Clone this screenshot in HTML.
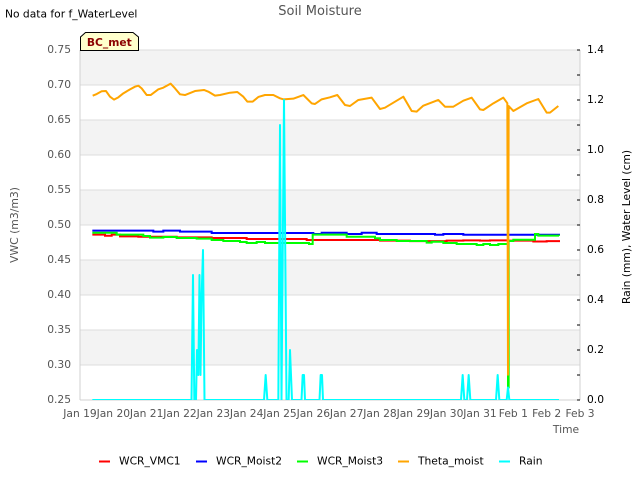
<!DOCTYPE html>
<html>
<head>
<meta charset="utf-8">
<title>Soil Moisture</title>
<style>
html,body{margin:0;padding:0;background:#fff;}
svg{display:block;font-family:"DejaVu Sans",sans-serif;}
</style>
</head>
<body>
<svg id="chart" width="640" height="480" viewBox="0 0 640 480" xmlns="http://www.w3.org/2000/svg">
  <defs>
    <clipPath id="plot-clip"><rect x="80" y="50" width="500" height="350"/></clipPath>
  </defs>
  <rect x="0" y="0" width="640" height="480" fill="#ffffff"/>
  <g id="bands"></g>
  <g id="grid"></g>
  <g id="axes"></g>
  <g id="series" clip-path="url(#plot-clip)"></g>
  <g id="labels"></g>

  <text x="320" y="15" font-size="13" fill="#555555" text-anchor="middle">Soil Moisture</text>
  <text x="5" y="17.5" font-size="10.7" fill="#000000">No data for f_WaterLevel</text>

  <polygon points="80.5,50.5 80.5,37 85.5,32.5 133,32.5 138.5,37 138.5,50.5" fill="#ffffcc" stroke="#000000" stroke-width="1"/>
  <text x="109.3" y="46" font-size="10.7" font-weight="bold" fill="#8b0000" text-anchor="middle">BC_met</text>

  <text transform="translate(18,225) rotate(-90)" font-size="10.8" fill="#555555" text-anchor="middle">VWC (m3/m3)</text>
  <text transform="translate(630,227) rotate(-90)" font-size="10.7" fill="#000000" text-anchor="middle">Rain (mm), Water Level (cm)</text>
  <text x="566" y="433" font-size="10.7" fill="#555555" text-anchor="middle">Time</text>

  <g font-size="10.7" fill="#000000">
    <line x1="99" x2="110" y1="461.5" y2="461.5" stroke="#ff0000" stroke-width="2"/>
    <text x="119" y="464.5">WCR_VMC1</text>
    <line x1="196" x2="207" y1="461.5" y2="461.5" stroke="#0000ff" stroke-width="2"/>
    <text x="216" y="464.5">WCR_Moist2</text>
    <line x1="297" x2="308" y1="461.5" y2="461.5" stroke="#00ff00" stroke-width="2"/>
    <text x="317" y="464.5">WCR_Moist3</text>
    <line x1="398" x2="409" y1="461.5" y2="461.5" stroke="#ffa500" stroke-width="2"/>
    <text x="418" y="464.5">Theta_moist</text>
    <line x1="499" x2="510" y1="461.5" y2="461.5" stroke="#00ffff" stroke-width="2"/>
    <text x="519" y="464.5">Rain</text>
  </g>
</svg>
<script>
// Category and tick data
var xTickLabels = ["Jan 19","Jan 20","Jan 21","Jan 22","Jan 23","Jan 24","Jan 25","Jan 26","Jan 27","Jan 28","Jan 29","Jan 30","Jan 31","Feb 1","Feb 2","Feb 3"];
var leftTicks = [0.25,0.30,0.35,0.40,0.45,0.50,0.55,0.60,0.65,0.70,0.75];
var rightMajorTicks = [0,0.2,0.4,0.6,0.8,1.0,1.2,1.4];
var rightMinorTicks = [0.1,0.3,0.5,0.7,0.9,1.1,1.3];

// Series: days since Jan 19 and values
var vmc1Days = [0.37,0.75,0.95,1.2,1.75,2.9,3.4,3.95,5.0,5.9,6.8,9.0,9.9,11.0,11.5,12.0,12.3,12.84,13.6,14.0,14.37];
var vmc1Values = [0.4862,0.4847,0.4862,0.4838,0.4833,0.4824,0.4824,0.4814,0.4800,0.4800,0.4786,0.4776,0.4770,0.4776,0.4780,0.4776,0.4780,0.4776,0.4765,0.4770,0.4755];

var moist2Days = [0.37,2.2,2.5,3.0,3.95,7.0,7.25,8.0,8.45,8.9,10.65,10.9,11.5,14.37];
var moist2Values = [0.4919,0.4905,0.4919,0.4905,0.4886,0.4872,0.4890,0.4872,0.4890,0.4872,0.4860,0.4872,0.4860,0.4858];

var moist3Days = [0.37,1.1,1.9,2.1,2.5,2.9,3.5,3.95,4.3,4.8,5.0,5.3,5.55,5.7,6.87,6.98,8.0,8.85,9.0,9.5,10.4,10.55,10.9,11.3,11.9,12.1,12.3,12.55,12.84,12.86,13.0,13.3,13.65,13.75,14.37];
var moist3Values = [0.4890,0.4862,0.4843,0.4819,0.4829,0.4814,0.4805,0.4786,0.4771,0.4757,0.4743,0.4757,0.4743,0.4743,0.4729,0.4862,0.4833,0.4810,0.4786,0.4771,0.4748,0.4760,0.4743,0.4729,0.4714,0.4729,0.4714,0.4729,0.2680,0.4771,0.4790,0.4790,0.4871,0.4848,0.4845];

var thetaDays = [0.38,0.50,0.65,0.78,0.90,1.02,1.15,1.30,1.50,1.65,1.75,1.85,2.00,2.12,2.35,2.50,2.72,2.85,3.00,3.15,3.45,3.72,3.85,4.05,4.20,4.50,4.72,4.90,5.02,5.18,5.35,5.55,5.80,6.00,6.10,6.40,6.70,6.95,7.05,7.25,7.50,7.72,7.95,8.10,8.35,8.75,9.00,9.15,9.70,9.95,10.10,10.30,10.75,10.95,11.20,11.50,11.75,12.00,12.10,12.40,12.70,12.82,12.84,12.86,13.00,13.40,13.75,14.00,14.10,14.35];
var thetaValues = [0.6848,0.6871,0.6910,0.6914,0.6833,0.6791,0.6824,0.6881,0.6938,0.6976,0.6990,0.6952,0.6857,0.6857,0.6938,0.6962,0.7019,0.6952,0.6867,0.6857,0.6914,0.6929,0.6905,0.6848,0.6857,0.6890,0.6900,0.6833,0.6762,0.6762,0.6829,0.6857,0.6857,0.6810,0.6795,0.6805,0.6857,0.6738,0.6729,0.6795,0.6824,0.6857,0.6714,0.6700,0.6786,0.6819,0.6657,0.6676,0.6833,0.6629,0.6620,0.6705,0.6786,0.6690,0.6690,0.6776,0.6819,0.6652,0.6643,0.6738,0.6819,0.6740,0.2860,0.6700,0.6629,0.6738,0.6800,0.6605,0.6605,0.6700];

var rainDays = [0.37,3.345,3.39,3.43,3.48,3.51,3.55,3.585,3.615,3.645,3.69,3.735,5.52,5.57,5.62,5.95,6.0,6.045,6.12,6.195,6.26,6.30,6.36,6.645,6.68,6.72,6.75,7.185,7.22,7.26,7.29,11.43,11.48,11.53,11.61,11.66,11.71,12.48,12.53,12.58,12.8,12.84,12.88,14.37];
var rainValues = [0,0,0.5,0,0,0.2,0.1,0.5,0.1,0.4,0.6,0,0,0.1,0,0,1.1,0,1.2,0,0,0.2,0,0,0.1,0.1,0,0,0.1,0.1,0,0,0.1,0,0,0.1,0,0,0.1,0,0,0.05,0,0];

// Axis functions
var plotLeft = 80, plotRight = 580, plotTop = 50, plotBottom = 400;
function xScale(day){ return plotLeft + day * (plotRight - plotLeft) / 15; }
function yLeft(v){ return plotBottom - (v - 0.25) * (plotBottom - plotTop) / 0.5; }
function yRight(v){ return plotBottom - v * (plotBottom - plotTop) / 1.4; }

var NS = "http://www.w3.org/2000/svg";
function make(tag, parentId, attrs){
  var el = document.createElementNS(NS, tag);
  for (var k in attrs) el.setAttribute(k, attrs[k]);
  document.getElementById(parentId).appendChild(el);
  return el;
}

// Alternating bands
leftTicks.slice(0, -1).forEach(function(t, i){
  var top = yLeft(leftTicks[i + 1]);
  var r = make("rect", "bands", {x: plotLeft, y: top, width: plotRight - plotLeft, height: yLeft(t) - top, fill: (i % 2 === 1) ? "#f3f3f3" : "#ffffff"});
  
  
});

// Horizontal grid lines and left tick labels
leftTicks.forEach(function(t){
  var y = yLeft(t);
  var g = make("line", "grid", {x1: plotLeft, x2: plotRight, y1: y, y2: y, stroke: "#dddddd", "stroke-width": 1});
  
  
  var l = make("text", "labels", {x: 71, y: y + 3, "font-size": 10.7, fill: "#555555", "text-anchor": "end"});
  l.textContent = t.toFixed(2);
  
  
});

// Axis frame
var leftLine = make("line", "axes", {x1: plotLeft, x2: plotLeft, y1: plotTop, y2: plotBottom, stroke: "#d0d0d0", "stroke-width": 1});


var rightLine = make("line", "axes", {x1: plotRight, x2: plotRight, y1: plotTop, y2: plotBottom, stroke: "#d0d0d0", "stroke-width": 1});


var bottomLine = make("line", "axes", {x1: plotLeft, x2: plotRight, y1: plotBottom, y2: plotBottom, stroke: "#d0d0d0", "stroke-width": 1});



// Right axis ticks and labels
rightMajorTicks.forEach(function(t){
  var y = yRight(t);
  var m = make("line", "axes", {x1: plotRight - 3, x2: plotRight, y1: y, y2: y, stroke: "#000000", "stroke-width": 1});
  
  
  var l = make("text", "labels", {x: 587, y: y + 3, "font-size": 10.7, fill: "#000000"});
  l.textContent = t.toFixed(1);
  
  
});
rightMinorTicks.forEach(function(t){
  var y = yRight(t);
  var m = make("line", "axes", {x1: plotRight - 3, x2: plotRight, y1: y, y2: y, stroke: "#000000", "stroke-width": 1});
  
  
});

// X tick labels
xTickLabels.forEach(function(label, i){
  var l = make("text", "labels", {x: xScale(i), y: 417, "font-size": 10.7, fill: "#555555", "text-anchor": "middle"});
  l.textContent = label;
  
  
});

// Series drawing
function stepPoints(days, values, yFn){
  var pts = [];
  days.forEach(function(d, i){
    if (i > 0) pts.push(xScale(d).toFixed(2) + "," + yFn(values[i - 1]).toFixed(2));
    pts.push(xScale(d).toFixed(2) + "," + yFn(values[i]).toFixed(2));
  });
  return pts.join(" ");
}
function linePoints(days, values, yFn){
  return days.map(function(d, i){
    return xScale(d).toFixed(2) + "," + yFn(values[i]).toFixed(2);
  }).join(" ");
}

var vmc1Line = make("polyline", "series", {points: stepPoints(vmc1Days, vmc1Values, yLeft), fill: "none", stroke: "#ff0000", "stroke-width": 2});



var moist2Line = make("polyline", "series", {points: stepPoints(moist2Days, moist2Values, yLeft), fill: "none", stroke: "#0000ff", "stroke-width": 2});



var moist3Line = make("polyline", "series", {points: stepPoints(moist3Days, moist3Values, yLeft), fill: "none", stroke: "#00ff00", "stroke-width": 2});



var thetaLine = make("polyline", "series", {points: linePoints(thetaDays, thetaValues, yLeft), fill: "none", stroke: "#ffa500", "stroke-width": 2, "stroke-linejoin": "round"});



var rainLine = make("polyline", "series", {points: linePoints(rainDays, rainValues, yRight), fill: "none", stroke: "#00ffff", "stroke-width": 2, "stroke-linejoin": "round"});


</script>
</body>
</html>
